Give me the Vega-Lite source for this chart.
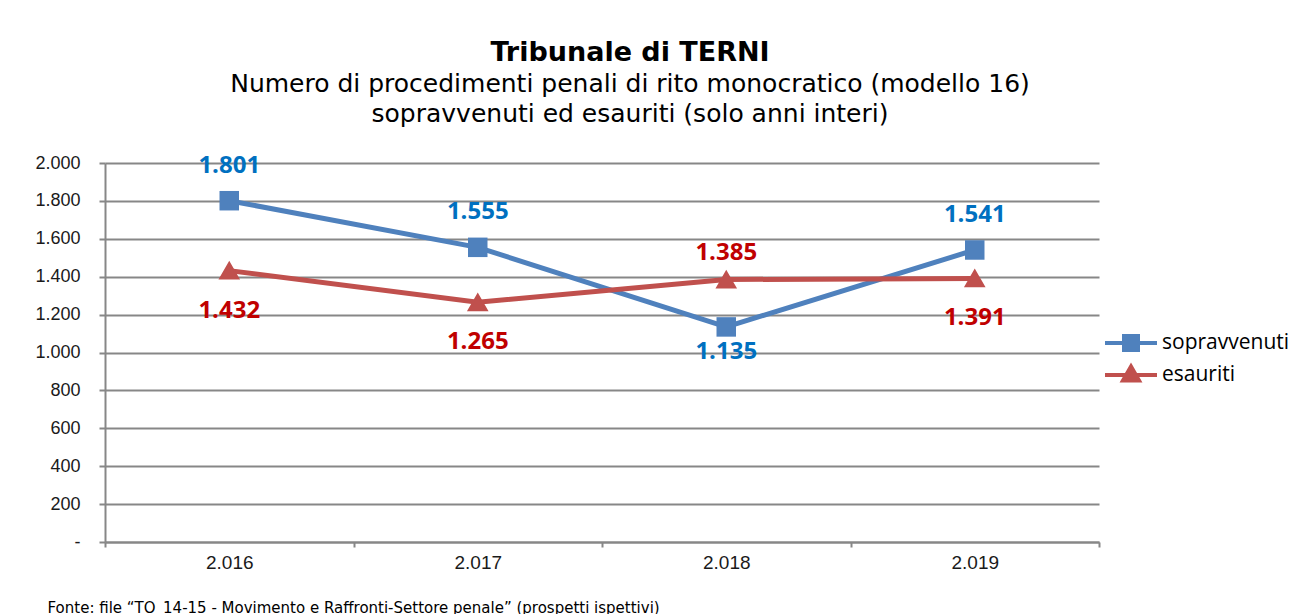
{
  "$schema": "https://vega.github.io/schema/vega-lite/v6.json",
  "width": 994,
  "height": 379,
  "autosize": {"type": "none"},
  "padding": {"left": 105, "top": 163, "right": 197, "bottom": 72},
  "background": "white",
  "config": {
    "view": {"stroke": null},
    "locale": {"number": {"decimal": ",", "thousands": ".", "grouping": [3], "currency": ["€", ""]}}
  },
  "title": {
    "text": "Tribunale di TERNI",
    "subtitle": ["Numero di procedimenti penali di rito monocratico (modello 16)", "sopravvenuti ed esauriti (solo anni interi)"],
    "font": "DejaVu Sans",
    "fontSize": 27,
    "fontWeight": "bold",
    "color": "#000000",
    "subtitleFont": "DejaVu Sans",
    "subtitleFontSize": 25,
    "subtitleColor": "#000000",
    "subtitleLineHeight": 30,
    "subtitlePadding": 5,
    "anchor": "middle",
    "frame": "group",
    "dx": 28,
    "offset": 26
  },
  "data": {
    "values": [
      {"anno": "2.016", "serie": "sopravvenuti", "valore": 1801},
      {"anno": "2.017", "serie": "sopravvenuti", "valore": 1555},
      {"anno": "2.018", "serie": "sopravvenuti", "valore": 1135},
      {"anno": "2.019", "serie": "sopravvenuti", "valore": 1541},
      {"anno": "2.016", "serie": "esauriti", "valore": 1432},
      {"anno": "2.017", "serie": "esauriti", "valore": 1265},
      {"anno": "2.018", "serie": "esauriti", "valore": 1385},
      {"anno": "2.019", "serie": "esauriti", "valore": 1391}
    ]
  },
  "encoding": {
    "x": {
      "field": "anno",
      "type": "nominal",
      "bandPosition": 0.5,
      "scale": {"type": "band", "paddingInner": 0, "paddingOuter": 0},
      "axis": {
        "labelAngle": 0,
        "tickBand": "extent",
        "tickSize": 5,
        "tickColor": "#878787",
        "tickWidth": 2,
        "domainColor": "#878787",
        "domainWidth": 2,
        "labelPadding": 6,
        "labelFont": "Liberation Sans",
        "labelFontSize": 19,
        "labelColor": "#1a1a1a",
        "grid": false,
        "title": "Fonte: file “TO_14-15 - Movimento e Raffronti-Settore penale” (prospetti ispettivi)",
        "titleX": -58,
        "titleY": 70,
        "titleAnchor": "start",
        "titleAlign": "left",
        "titleBaseline": "alphabetic",
        "titleFont": "DejaVu Sans",
        "titleFontSize": 15,
        "titleFontWeight": "normal",
        "titleColor": "#000000"
      }
    },
    "y": {
      "field": "valore",
      "type": "quantitative",
      "scale": {"domain": [0, 2000], "nice": false},
      "axis": {
        "values": [0, 200, 400, 600, 800, 1000, 1200, 1400, 1600, 1800, 2000],
        "labelExpr": "datum.value == 0 ? '-' : replace(format(datum.value, ',d'), ',', '.')",
        "grid": true,
        "gridColor": "#878787",
        "gridWidth": 2,
        "domainColor": "#878787",
        "domainWidth": 2,
        "tickColor": "#878787",
        "tickWidth": 2,
        "tickSize": 6,
        "labelPadding": 19,
        "labelFont": "Liberation Sans",
        "labelFontSize": 18,
        "labelColor": "#1a1a1a",
        "title": null
      }
    }
  },
  "layer": [
    {
      "mark": {"type": "line", "strokeWidth": 5},
      "encoding": {
        "color": {
          "field": "serie",
          "type": "nominal",
          "scale": {"domain": ["sopravvenuti", "esauriti"], "range": ["#4F81BD", "#C0504D"]},
          "legend": null
        }
      }
    },
    {
      "transform": [{"filter": "datum.serie == 'sopravvenuti'"}],
      "mark": {"type": "point", "shape": "square", "filled": true, "opacity": 1, "size": 380},
      "encoding": {
        "fill": {
          "field": "serie",
          "type": "nominal",
          "scale": {"domain": ["sopravvenuti"], "range": ["#4F81BD"]},
          "legend": {
            "orient": "none",
            "legendX": 1014,
            "legendY": 168,
            "title": null,
            "padding": 0,
            "symbolType": "M-2.6,0H2.6M-0.7,-0.7H0.7V0.7H-0.7Z",
            "symbolSize": 400,
            "symbolStrokeColor": "#4F81BD",
            "symbolStrokeWidth": 4,
            "symbolOpacity": 1,
            "labelOffset": 19,
            "labelFont": "Open Sans",
            "labelFontSize": 21,
            "labelColor": "#000000"
          }
        }
      }
    },
    {
      "transform": [{"filter": "datum.serie == 'esauriti'"}],
      "mark": {"type": "point", "shape": "triangle-up", "filled": true, "fill": "#C0504D", "opacity": 1, "size": 330},
      "encoding": {
        "stroke": {
          "field": "serie",
          "type": "nominal",
          "scale": {"domain": ["esauriti"], "range": ["#C0504D"]},
          "legend": {
            "orient": "none",
            "legendX": 1014,
            "legendY": 200,
            "title": null,
            "padding": 0,
            "symbolType": "M-2.6,0H2.6M0,-0.85L0.8,0.55H-0.8Z",
            "symbolSize": 400,
            "symbolFillColor": "#C0504D",
            "symbolStrokeWidth": 4,
            "symbolOpacity": 1,
            "labelOffset": 19,
            "labelFont": "Open Sans",
            "labelFontSize": 21,
            "labelColor": "#000000"
          }
        }
      }
    },
    {
      "transform": [{"filter": "datum.serie == 'sopravvenuti' && datum.anno != '2.018'"}],
      "mark": {"type": "text", "dy": -35, "font": "Open Sans", "fontSize": 24, "fontWeight": "bold", "baseline": "middle"},
      "encoding": {"text": {"field": "valore", "type": "quantitative", "format": ",d"}, "color": {"value": "#0070C0"}}
    },
    {
      "transform": [{"filter": "datum.serie == 'sopravvenuti' && datum.anno == '2.018'"}],
      "mark": {"type": "text", "dy": 25, "font": "Open Sans", "fontSize": 24, "fontWeight": "bold", "baseline": "middle"},
      "encoding": {"text": {"field": "valore", "type": "quantitative", "format": ",d"}, "color": {"value": "#0070C0"}}
    },
    {
      "transform": [{"filter": "datum.serie == 'esauriti' && datum.anno == '2.018'"}],
      "mark": {"type": "text", "dy": -27, "font": "Open Sans", "fontSize": 24, "fontWeight": "bold", "baseline": "middle"},
      "encoding": {"text": {"field": "valore", "type": "quantitative", "format": ",d"}, "color": {"value": "#C00000"}}
    },
    {
      "transform": [{"filter": "datum.serie == 'esauriti' && datum.anno != '2.018'"}],
      "mark": {"type": "text", "dy": 40, "font": "Open Sans", "fontSize": 24, "fontWeight": "bold", "baseline": "middle"},
      "encoding": {"text": {"field": "valore", "type": "quantitative", "format": ",d"}, "color": {"value": "#C00000"}}
    }
  ]
}
